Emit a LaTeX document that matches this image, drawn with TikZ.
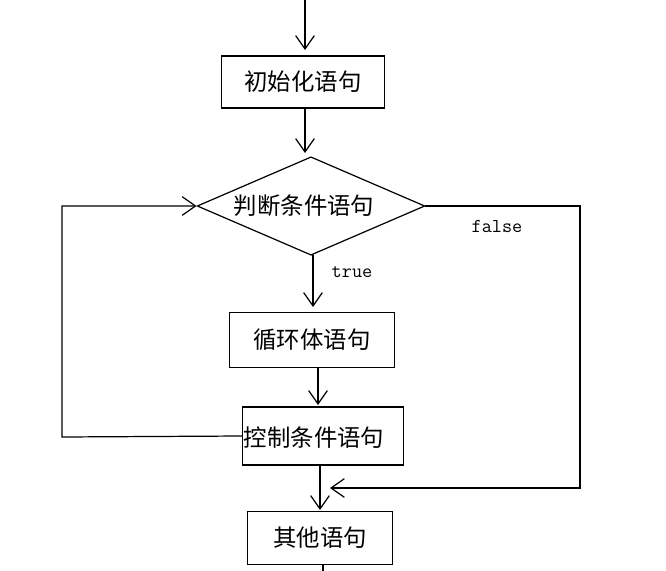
\documentclass[tikz,border=0pt]{standalone}
\usepackage{fontspec}
\newfontfamily\cjk{Noto Sans CJK SC}
\usetikzlibrary{shapes.geometric,arrows.meta}
\begin{document}
\begin{tikzpicture}[x=0.0375cm,y=-0.0375cm,
  cjkfont/.style={font=\cjk\fontsize{25}{28}\selectfont},
  box/.style={draw,line width=1.3pt,minimum width=#1,minimum height=55.5pt,inner sep=0pt,cjkfont},
  arr/.style={line width=1.3pt,-{Straight Barb[length=5mm,width=7mm]}},
  ln/.style={line width=1.3pt}]
\useasboundingbox (0,0) rectangle (666,571);
\coordinate (s) at (305,0);
\node[box=174pt] (init) at (303,82) {初始化语句};
\node[draw,line width=1.3pt,diamond,aspect=2.3,minimum width=243pt,minimum height=105pt,inner sep=0pt] (cond) at (311,206) {};
\node[cjkfont] (condtxt) at (304,206) {判断条件语句};
\node[box=176pt,minimum height=58.5pt] (body) at (312,340) {循环体语句};
\node[box=171pt,minimum height=62pt] (ctrl) at (323,436) {};
\node[cjkfont] (ctrltxt) at (314,438) {控制条件语句};
\node[box=155pt,minimum height=56.5pt] (other) at (320,538) {其他语句};
\node[font=\ttfamily\fontsize{21}{24}\selectfont] (t) at (352,272) {true};
\node[font=\ttfamily\fontsize{21}{24}\selectfont] (f) at (497,226) {false};
\draw[arr] (s) -- (305,50);
\draw[arr] (init.south -| 305,0) -- (305,153);
\draw[arr] (313,255) -- (313,307);
\draw[arr] (318,368) -- (318,405);
\draw[arr] (ctrl.west) -- (62,437) -- (62,206) -- (cond.west);
\draw[arr] (cond.east) -- (580,206) -- (580,488) -- (330,488);
\draw[arr] (320,465) -- (320,510);
\coordinate (e) at (323,571);
\draw[ln] (other.south -| e) -- (e);
\end{tikzpicture}
\end{document}
